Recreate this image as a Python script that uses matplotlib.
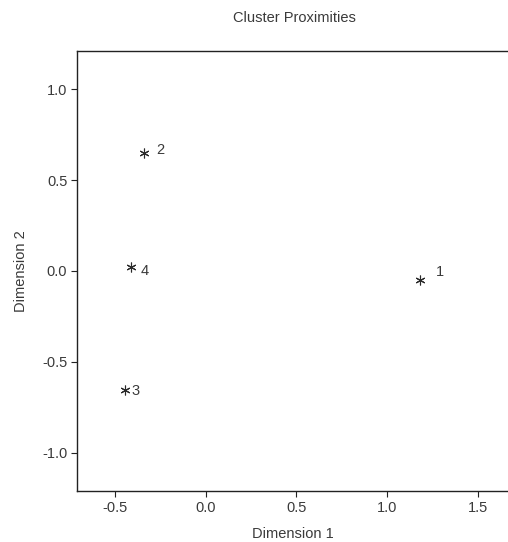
import matplotlib
matplotlib.use('Agg')
import matplotlib.pyplot as plt

# cluster centres in the two-dimensional solution
cluster_ids = ['1', '2', '3', '4']
dim1 = [1.183, -0.34, -0.445, -0.41]
dim2 = [-0.05, 0.648, -0.654, 0.022]

x_ticks = [-0.5, 0.0, 0.5, 1.0, 1.5]
y_ticks = [-1.0, -0.5, 0.0, 0.5, 1.0]

# label offsets in points (placement only)
label_offsets = [(14, 6), (12, 2), (8, -1), (10, -3)]

plt.rcParams['font.family'] = ['Liberation Sans', 'DejaVu Sans']
text_col = '#3a3a3a'
fs = 10.5

fig = plt.figure(figsize=(5.08, 5.42), dpi=100)
ax = fig.add_axes([0.1516, 0.0941, 0.8484, 0.8118])

ax.plot(dim1, dim2, linestyle='none', marker=(6, 2, 0), markersize=7,
        markeredgewidth=0.8, color='#2a2a2a')
for cid, x, y, off in zip(cluster_ids, dim1, dim2, label_offsets):
    ax.annotate(cid, (x, y), xytext=off, textcoords='offset points',
                ha='center', va='center', fontsize=fs, color=text_col)

ax.set_xlim(-0.709, 1.668)
ax.set_ylim(-1.209, 1.209)
ax.set_xticks(x_ticks)
ax.set_yticks(y_ticks)
ax.set_xticklabels([f'{t:.1f}' for t in x_ticks])
ax.set_yticklabels([f'{t:.1f}' for t in y_ticks])
ax.spines['right'].set_visible(False)
for s in ['left', 'bottom', 'top']:
    ax.spines[s].set_linewidth(1.0)
    ax.spines[s].set_color('#222222')
ax.tick_params(direction='out', length=4, width=0.8, colors='#222222',
               labelcolor=text_col, labelsize=fs, pad=3)

ax.set_xlabel('Dimension 1', fontsize=fs, color=text_col, labelpad=9)
ax.set_ylabel('Dimension 2', fontsize=fs, color=text_col, labelpad=10)
fig.text(0.58, 0.967, 'Cluster Proximities', ha='center', va='center',
         fontsize=fs, color=text_col)

fig.savefig('out.png', dpi=100)
